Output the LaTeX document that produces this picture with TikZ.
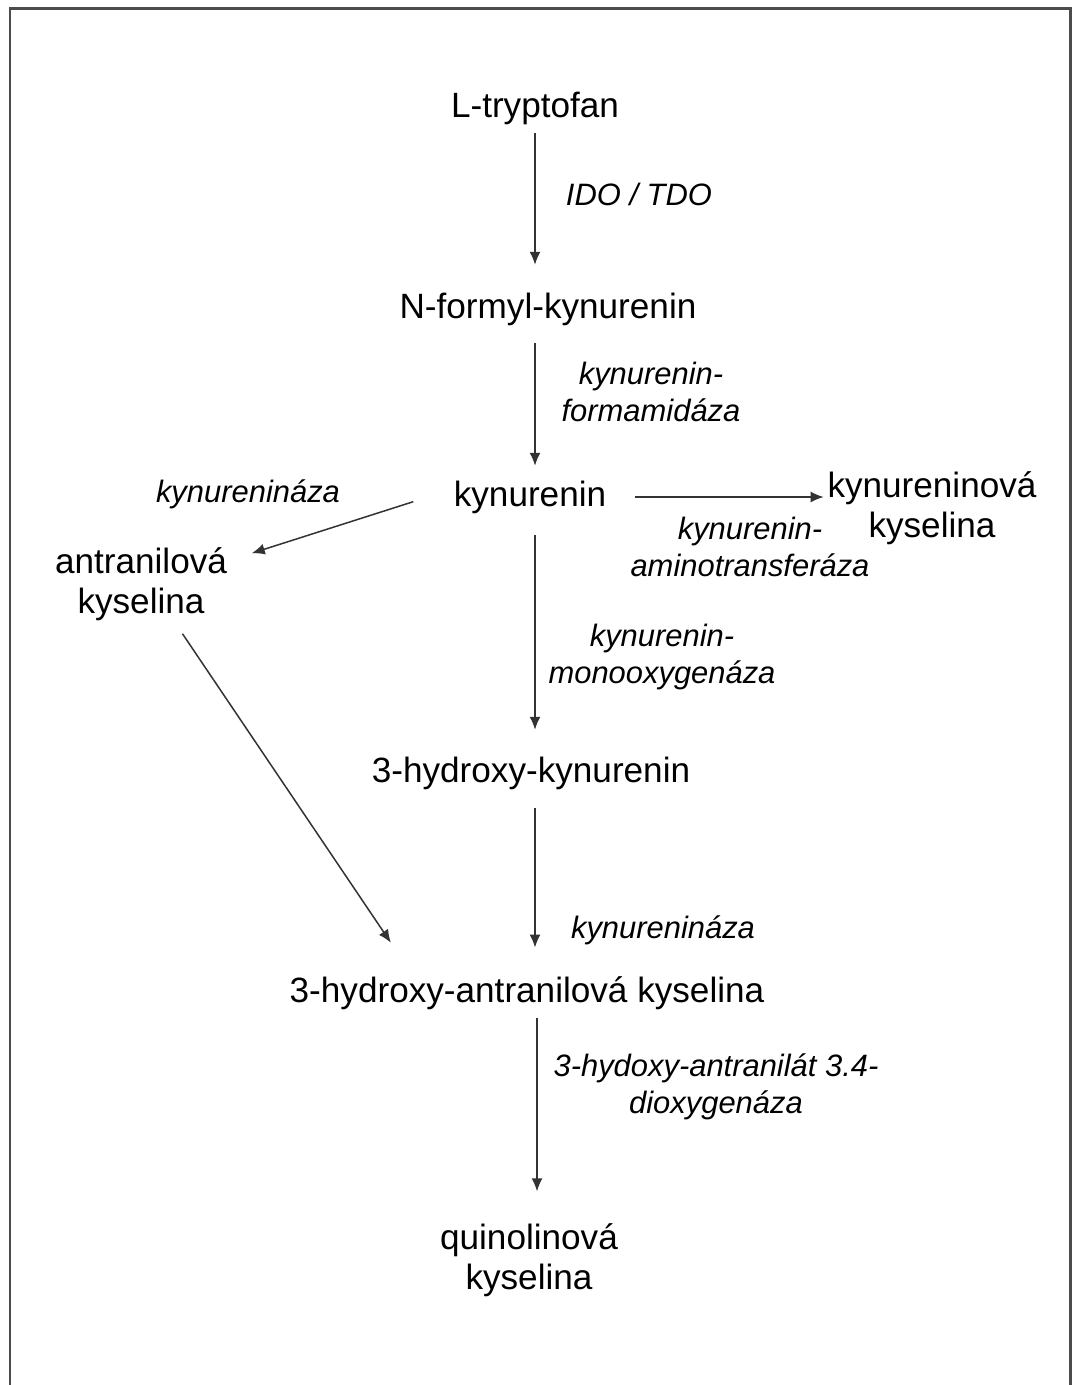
\documentclass[tikz,border=0pt]{standalone}
\usepackage{fontspec}
\setmainfont{Liberation Sans}
\usepackage{tikz}
\usetikzlibrary{calc}
\usetikzlibrary{arrows.meta}

\begin{document}
\begin{tikzpicture}[x=0.02cm,y=-0.02cm,
	metab/.style={inner sep=2pt,align=center,font=\fontsize{20}{23}\selectfont},
	enzym/.style={inner sep=2pt,align=center,font=\fontsize{17.6}{21}\selectfont\itshape},
	arr/.style={draw=black!80,line width=0.03cm,-{Latex[length=0.26cm,width=0.22cm]}}]
		\useasboundingbox (0,0) rectangle (1072,1385);
		\begin{scope}
		\clip (0,0) rectangle (1072,1385);
		\draw[black!70,line width=0.06cm] (10,9) rectangle (1070,1420);
		\end{scope}
		\coordinate (A) at (141,584);
		\coordinate (B) at (535,108);
		\coordinate (C) at (548,309);
		\coordinate (D) at (530,497);
		\coordinate (E) at (932,508);
		\coordinate (F) at (531,773);
		\coordinate (G) at (527,993);
		\coordinate (H) at (529,1260);
		\coordinate (axis) at (535,0);
		\coordinate (axisb) at (537,0);
		% metabolity
		\node[metab] (tryp) at (B) {L-tryptofan};
		\node[metab] (nform) at (C) {N-formyl-kynurenin};
		\node[metab] (kyn) at (D) {kynurenin};
		\node[metab] (kynacid) at (E) {kynureninová\\kyselina};
		\node[metab] (antr) at (A) {antranilová\\kyselina};
		\node[metab] (hkyn) at (F) {3-hydroxy-kynurenin};
		\node[metab] (haa) at (G) {3-hydroxy-antranilová kyselina};
		\node[metab] (quin) at (H) {quinolinová\\kyselina};
		% enzymy
		\node[enzym] (ido) at (639,194) {IDO / TDO};
		\node[enzym] (kfa) at (651,392) {kynurenin-\\formamidáza};
		\node[enzym] (kyna) at (248,494) {kynurenináza};
		\node[enzym] (kat) at (750,547) {kynurenin-\\aminotransferáza};
		\node[enzym] (kmo) at (662,657) {kynurenin-\\monooxygenáza};
		\node[enzym] (kynb) at (663,930) {kynurenináza};
		\node[enzym] (haao) at (716,1087) {3-hydoxy-antranilát 3.4-\\dioxygenáza};
		% sipky
		\draw[arr,shorten <=0.10cm,shorten >=0.48cm] (tryp.south -| axis) -- (nform.north -| axis);
		\draw[arr,shorten <=0.28cm,shorten >=0.22cm] (nform.south -| axis) -- (kyn.north -| axis);
		\draw[arr,shorten <=0.36cm,shorten >=0.46cm] (kyn.south -| axis) -- (hkyn.north -| axis);
		\draw[arr,shorten <=0.30cm,shorten >=0.50cm] (hkyn.south -| axis) -- (haa.north -| axis);
		\draw[arr,shorten <=0.10cm,shorten >=0.56cm] (haa.south -| axisb) -- (quin.north -| axisb);
		\draw[arr,shorten <=0.50cm] (kyn.east) -- (kyn.east -| kynacid.west);
		\draw[arr,shorten <=0.77cm,shorten >=0.44cm] (kyn.175) -- (antr.15);
		\draw[arr,shorten <=0.22cm,shorten >=0.72cm] (antr.-49) -- (haa.170);
\end{tikzpicture}
\end{document}
